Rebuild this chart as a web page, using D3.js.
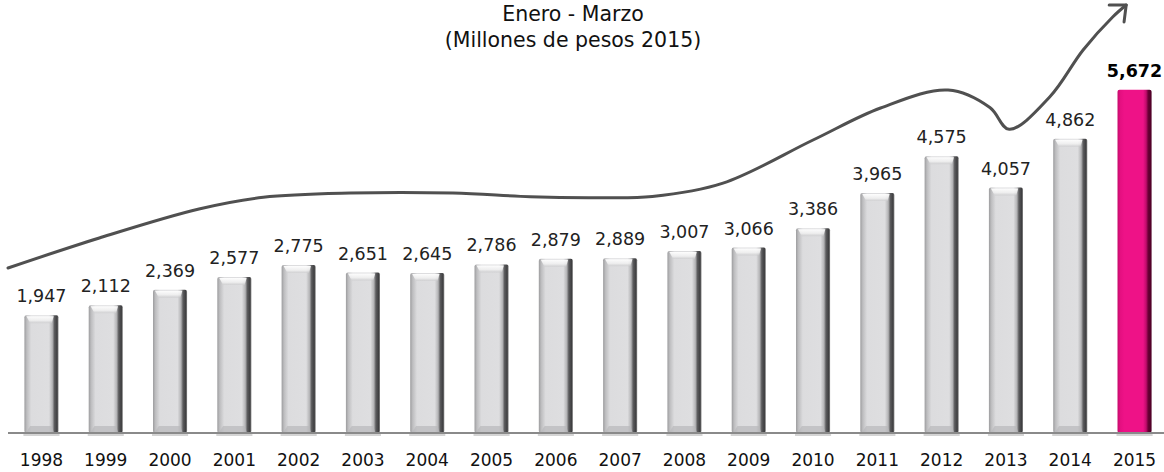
<!DOCTYPE html>
<html>
<head>
<meta charset="utf-8">
<script src="https://cdn.jsdelivr.net/npm/d3@7"></script>
<style>
  body { margin: 0; background: #fff; }
  #graf { width: 1164px; height: 472px; }
  text { font-family: 'DejaVu Sans', sans-serif; }
</style>
</head>
<body>
<div id="graf"></div>
<script>
// Enero - Marzo, millones de pesos 2015

// datos
anios   = ['1998','1999','2000','2001','2002','2003','2004','2005','2006','2007','2008','2009','2010','2011','2012','2013','2014','2015']
valores = [1947, 2112, 2369, 2577, 2775, 2651, 2645, 2786, 2879, 2889, 3007, 3066, 3386, 3965, 4575, 4057, 4862, 5672]
titulo  = ['Enero - Marzo', '(Millones de pesos 2015)']

// flecha de tendencia (año fraccional, valor)
tendAnio  = [1997.48, 1998.9, 2000.45, 2001.45, 2002.8, 2004.4, 2005.6, 2006.6, 2007.5, 2008.6, 2010.0, 2011.05, 2012.1, 2012.75, 2013.05, 2013.68, 2014.2, 2014.66, 2014.87]
tendValor = [2727, 3223, 3702, 3895, 3965, 3965, 3905, 3890, 3910, 4130, 4843, 5372, 5669, 5380, 5020, 5554, 6331, 6876, 7074]

ancho_total = 1164
alto_total  = 472
base = 433

svg = d3.select('#graf').append('svg')
        .attr('width', ancho_total)
        .attr('height', alto_total)

// escaladores
x = d3.scaleBand().domain(anios).range([9.3, 1166.7]).paddingInner(0.47).paddingOuter(0.235)
y = d3.scaleLinear().domain([0, 7157]).range([base, 0])
bw = x.bandwidth()
xc = d3.scaleLinear().domain([1998, 2015]).range([x('1998') + bw / 2, x('2015') + bw / 2])

// gradientes
defs = svg.append('defs')
function gradH(id, stops) {
  gr = defs.append('linearGradient').attr('id', id)
          .attr('x1', 0).attr('x2', 1).attr('y1', 0).attr('y2', 0)
  stops.forEach(s => gr.append('stop').attr('offset', s[0]).attr('stop-color', s[1]))
}
gradH('gris', [[0, '#9c9c9e'], [0.07, '#bdbdbf'], [0.2, '#dcdcde'], [0.72, '#dedee0'], [0.82, '#b4b4b6'], [0.88, '#5c5c5e'], [0.96, '#3e3e40'], [1, '#8a8a8a']])
gradH('rosa', [[0, '#c40a6a'], [0.08, '#e40f80'], [0.2, '#ee1287'], [0.75, '#ee1287'], [0.84, '#c00c6c'], [0.9, '#6a0036'], [1, '#4a0024']])
tapa = defs.append('linearGradient').attr('id', 'tapa')
          .attr('x1', 0).attr('x2', 0).attr('y1', 0).attr('y2', 1)
tapa.append('stop').attr('offset', 0).attr('stop-color', '#ffffff').attr('stop-opacity', 0.95)
tapa.append('stop').attr('offset', 0.6).attr('stop-color', '#f2f2f2').attr('stop-opacity', 0.8)
tapa.append('stop').attr('offset', 1).attr('stop-color', '#c8c8ca').attr('stop-opacity', 0.6)

// titulo
svg.selectAll('.titulo')
   .data(titulo)
   .enter().append('text')
     .attr('x', 573)
     .attr('y', (d, i) => 21 + i * 26)
     .attr('text-anchor', 'middle')
     .attr('font-size', '20.5px')
     .attr('fill', '#111')
     .text(d => d)

// sombra bajo las barras
svg.selectAll('.sombra')
   .data(anios)
   .enter().append('rect')
     .attr('x', d => x(d) - 1)
     .attr('y', base)
     .attr('width', bw + 2)
     .attr('height', 3)
     .attr('fill', '#d4d4d4')

// barras
barras = svg.selectAll('.barra')
   .data(valores)
   .enter().append('g')

barras.append('rect')
  .attr('x', (d, i) => x(anios[i]))
  .attr('y', d => y(d))
  .attr('width', bw)
  .attr('height', d => base - y(d))
  .attr('rx', 2)
  .attr('fill', (d, i) => i == anios.length - 1 ? 'url(#rosa)' : 'url(#gris)')

// brillo de la tapa superior (solo barras grises)
barras.filter((d, i) => i < anios.length - 1)
  .append('path')
  .attr('d', (d, i) => {
    x0 = x(anios[i]); y0 = y(d)
    return `M${x0 + 2},${y0 + 1} L${x0 + bw * 0.86},${y0 + 1} L${x0 + bw * 0.8},${y0 + 8} L${x0 + bw * 0.17},${y0 + 8} Z`
  })
  .attr('fill', 'url(#tapa)')

barras.filter((d, i) => i < anios.length - 1)
  .append('path')
  .attr('d', (d, i) => {
    x0 = x(anios[i])
    return `M${x0 + 2},${base - 1} L${x0 + bw * 0.86},${base - 1} L${x0 + bw * 0.8},${base - 7} L${x0 + bw * 0.17},${base - 7} Z`
  })
  .attr('fill', '#b8b8ba')
  .attr('opacity', 0.7)

// etiquetas de valor
svg.selectAll('.valor')
   .data(valores)
   .enter().append('text')
     .attr('x', (d, i) => x(anios[i]) + bw / 2)
     .attr('y', d => y(d) - 13)
     .attr('text-anchor', 'middle')
     .attr('font-size', '17.5px')
     .attr('font-weight', (d, i) => i == anios.length - 1 ? 'bold' : 'normal')
     .attr('fill', (d, i) => i == anios.length - 1 ? '#000' : '#222')
     .text(d => d3.format(',')(d))

// eje x
svg.append('line')
   .attr('x1', 8).attr('x2', 1164)
   .attr('y1', base).attr('y2', base)
   .attr('stroke', '#8a8a8a')
   .attr('stroke-width', 2)

svg.selectAll('.anio')
   .data(anios)
   .enter().append('text')
     .attr('x', d => x(d) + bw / 2)
     .attr('y', 466)
     .attr('text-anchor', 'middle')
     .attr('font-size', '17px')
     .attr('fill', '#111')
     .text(d => d)

// linea de tendencia
puntos = tendAnio.map((a, i) => [xc(a), y(tendValor[i])])
linea = d3.line().curve(d3.curveCatmullRom.alpha(0.5))
svg.append('path')
   .attr('d', linea(puntos))
   .attr('fill', 'none')
   .attr('stroke', '#505050')
   .attr('stroke-width', 3)
   .attr('stroke-linecap', 'round')

// punta de flecha
p1 = puntos[puntos.length - 2]
p2 = puntos[puntos.length - 1]
ang = Math.atan2(p2[1] - p1[1], p2[0] - p1[0])
largo = 17
ala = 0.72
svg.append('path')
   .attr('d', `M${p2[0] - largo * Math.cos(ang - ala)},${p2[1] - largo * Math.sin(ang - ala)} L${p2[0]},${p2[1]} L${p2[0] - largo * Math.cos(ang + ala)},${p2[1] - largo * Math.sin(ang + ala)}`)
   .attr('fill', 'none')
   .attr('stroke', '#505050')
   .attr('stroke-width', 3)
   .attr('stroke-linecap', 'round')
   .attr('stroke-linejoin', 'round')
</script>
</body>
</html>
